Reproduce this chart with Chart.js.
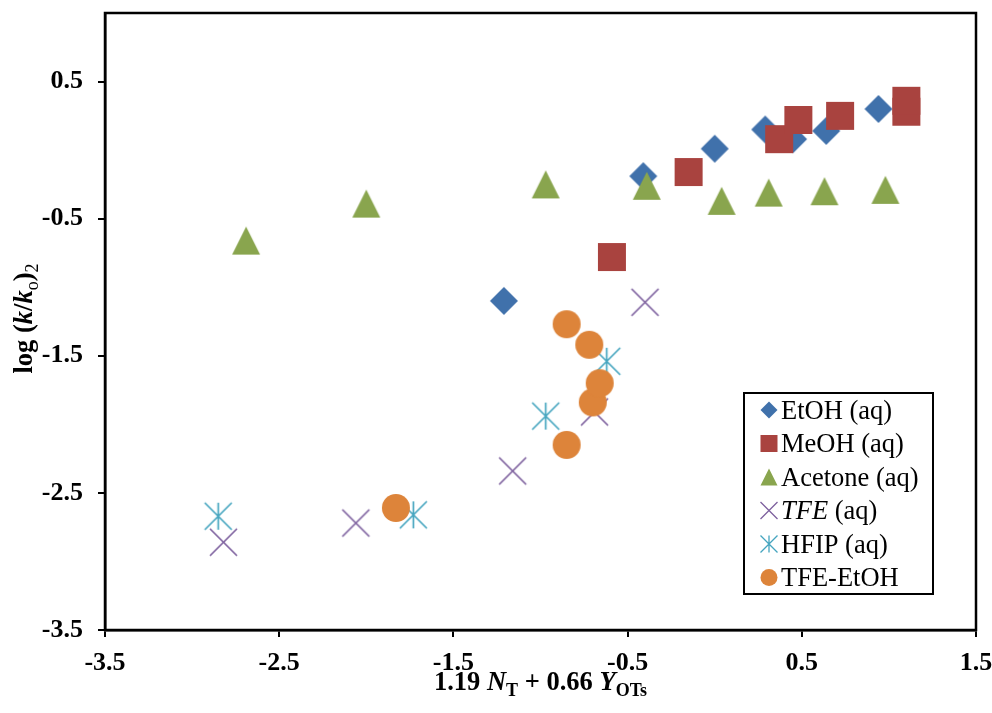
<!DOCTYPE html>
<html>
<head>
<meta charset="utf-8">
<script src="https://cdn.jsdelivr.net/npm/chart.js@4.4.1/dist/chart.umd.min.js"></script>
<style>
  html, body { margin: 0; padding: 0; background: #fff; }
</style>
</head>
<body>
<canvas id="solvolysis" width="992" height="713"></canvas>
<script>
const FONT = '"Liberation Serif", "Times New Roman", Times, serif';

// x = 1.19 NT + 0.66 YOTs, y = log (k/ko)2
const seriesNames = ['EtOH (aq)', 'MeOH (aq)', 'Acetone (aq)', 'TFE (aq)', 'HFIP (aq)', 'TFE-EtOH'];
const seriesColors = ['#4071AB', '#A9433F', '#89A54E', '#7D609E', '#45A5BF', '#DD843A'];
const seriesShapes = ['diamond', 'square', 'triangle', 'x', 'star', 'circle'];

const etohX = [-1.21, -0.41, 0.00, 0.29, 0.45, 0.64, 0.94];
const etohY = [-1.10, -0.19, 0.01, 0.15, 0.08, 0.14, 0.30];
const meohX = [-0.59, -0.15, 0.37, 0.48, 0.72, 1.10, 1.10];
const meohY = [-0.78, -0.16, 0.08, 0.22, 0.25, 0.28, 0.36];
const acetoneX = [-2.69, -2.00, -0.97, -0.39, 0.04, 0.31, 0.63, 0.98];
const acetoneY = [-0.66, -0.39, -0.25, -0.26, -0.37, -0.31, -0.30, -0.29];
const tfeX = [-2.82, -2.06, -1.16, -0.69, -0.40];
const tfeY = [-2.86, -2.72, -2.34, -1.91, -1.11];
const hfipX = [-2.85, -1.73, -0.97, -0.62];
const hfipY = [-2.67, -2.66, -1.94, -1.54];
const tfeEtohX = [-1.83, -0.85, -0.85, -0.72, -0.70, -0.66];
const tfeEtohY = [-2.61, -2.15, -1.27, -1.42, -1.84, -1.70];

const xTicks = [-3.5, -2.5, -1.5, -0.5, 0.5, 1.5];
const yTicks = [-3.5, -2.5, -1.5, -0.5, 0.5];

const seriesX = [etohX, meohX, acetoneX, tfeX, hfipX, tfeEtohX];
const seriesY = [etohY, meohY, acetoneY, tfeY, hfipY, tfeEtohY];

// excel-like marker shapes, s = full size
function drawMarker(ctx, shape, x, y, s, color) {
  const h = s / 2;
  ctx.save();
  ctx.fillStyle = color;
  ctx.strokeStyle = color;
  ctx.lineWidth = Math.max(1.3, s / 16);
  ctx.beginPath();
  if (shape === 'diamond') {
    ctx.moveTo(x, y - h); ctx.lineTo(x + h, y); ctx.lineTo(x, y + h); ctx.lineTo(x - h, y);
    ctx.closePath(); ctx.fill();
  } else if (shape === 'square') {
    ctx.rect(x - h, y - h, s, s); ctx.fill();
  } else if (shape === 'triangle') {
    ctx.moveTo(x, y - h); ctx.lineTo(x + h, y + h); ctx.lineTo(x - h, y + h);
    ctx.closePath(); ctx.fill();
  } else if (shape === 'x') {
    ctx.moveTo(x - h, y - h); ctx.lineTo(x + h, y + h);
    ctx.moveTo(x + h, y - h); ctx.lineTo(x - h, y + h);
    ctx.stroke();
  } else if (shape === 'star') {
    ctx.moveTo(x - h, y - h); ctx.lineTo(x + h, y + h);
    ctx.moveTo(x + h, y - h); ctx.lineTo(x - h, y + h);
    ctx.moveTo(x, y - h); ctx.lineTo(x, y + h);
    ctx.stroke();
  } else {
    ctx.arc(x, y, h, 0, Math.PI * 2); ctx.fill();
  }
  ctx.restore();
}

function markerImage(shape, s, color) {
  const c = document.createElement('canvas');
  c.width = s + 4;
  c.height = s + 4;
  drawMarker(c.getContext('2d'), shape, c.width / 2, c.height / 2, s, color);
  return c;
}

const markerSizes = [28, 28, 28, 27, 27, 28];

const datasets = seriesNames.map((name, i) => ({
  label: name,
  data: seriesX[i].map((x, j) => ({ x: x, y: seriesY[i][j] })),
  pointStyle: markerImage(seriesShapes[i], markerSizes[i], seriesColors[i]),
  backgroundColor: seriesColors[i],
  borderColor: seriesColors[i],
  showLine: false,
  order: seriesNames.length - i
}));

function drawRich(ctx, parts, x, y) {
  const fontOf = p => (p.i ? 'italic ' : '') + (p.b === false ? '' : 'bold ') + (p.sub ? 18 : 26.5) + 'px ' + FONT;
  let total = 0;
  parts.forEach(p => { ctx.font = fontOf(p); total += ctx.measureText(p.t).width; });
  let cx = x - total / 2;
  parts.forEach(p => {
    ctx.font = fontOf(p);
    ctx.fillText(p.t, cx, y + (p.sub ? 6 : 0));
    cx += ctx.measureText(p.t).width;
  });
}

const xTitle = [
  { t: '1.19 ' }, { t: 'N', i: true }, { t: 'T', sub: true },
  { t: ' + 0.66 ' }, { t: 'Y', i: true }, { t: 'OTs', sub: true }
];
const yTitle = [
  { t: 'log (' }, { t: 'k', i: true }, { t: '/' }, { t: 'k', i: true },
  { t: 'o', sub: true, b: false }, { t: ')' }, { t: '2', sub: true, b: false }
];

const frameAndTitles = {
  id: 'frameAndTitles',
  beforeDatasetsDraw(chart) {
    const a = chart.chartArea, ctx = chart.ctx;
    ctx.save();
    ctx.strokeStyle = '#000';
    ctx.lineWidth = 2.5;
    ctx.strokeRect(a.left, a.top, a.right - a.left, a.bottom - a.top);
    ctx.restore();
  },
  afterDraw(chart) {
    const a = chart.chartArea, ctx = chart.ctx;
    ctx.save();
    ctx.fillStyle = '#000';
    ctx.textBaseline = 'alphabetic';
    drawRich(ctx, xTitle, (a.left + a.right) / 2, 690);
    ctx.translate(32, (a.top + a.bottom) / 2 - 3);
    ctx.rotate(-Math.PI / 2);
    drawRich(ctx, yTitle, 0, 0);
    ctx.restore();

    // legend box
    const left = 744, top = 393, w = 189, h = 201;
    ctx.save();
    ctx.fillStyle = '#fff';
    ctx.fillRect(left, top, w, h);
    ctx.strokeStyle = '#000';
    ctx.lineWidth = 2;
    ctx.strokeRect(left, top, w, h);
    ctx.fillStyle = '#000';
    ctx.textBaseline = 'alphabetic';
    seriesNames.forEach((name, i) => {
      const cy = top + 17 + i * 33.5;
      drawMarker(ctx, seriesShapes[i], left + 25, cy, 17, seriesColors[i]);
      let tx = left + 37;
      if (name.startsWith('TFE (')) {
        ctx.font = 'italic 26.5px ' + FONT;
        ctx.fillText('TFE', tx, cy + 8.5);
        tx += ctx.measureText('TFE').width;
        name = name.slice(3);
      }
      ctx.font = '26.5px ' + FONT;
      ctx.fillText(name, tx, cy + 8.5);
    });
    ctx.restore();
  }
};

const tickFont = { family: FONT, size: 26, weight: 'bold' };

new Chart(document.getElementById('solvolysis').getContext('2d'), {
  type: 'scatter',
  data: { datasets: datasets },
  options: {
    responsive: false,
    animation: false,
    events: [],
    layout: { padding: { top: 13, right: 16, bottom: 0, left: 0 } },
    plugins: { legend: { display: false }, tooltip: { enabled: false } },
    scales: {
      x: {
        type: 'linear',
        min: -3.5,
        max: 1.5,
        afterBuildTicks: s => { s.ticks = xTicks.map(v => ({ value: v })); },
        afterFit: s => { s.height = 83; s.paddingLeft = 0; s.paddingRight = 0; },
        border: { display: true, color: '#000', width: 2.5 },
        grid: { drawOnChartArea: false, drawTicks: true, tickLength: 7, color: '#000', lineWidth: 2 },
        ticks: { color: '#000', font: tickFont, padding: 11, maxRotation: 0, callback: v => v.toFixed(1) }
      },
      y: {
        type: 'linear',
        min: -3.5,
        max: 1.0,
        afterBuildTicks: s => { s.ticks = yTicks.map(v => ({ value: v })); },
        afterFit: s => { s.width = 105; s.paddingTop = 0; s.paddingBottom = 0; },
        border: { display: true, color: '#000', width: 2.5 },
        grid: { drawOnChartArea: false, drawTicks: true, tickLength: 7, color: '#000', lineWidth: 2 },
        ticks: { color: '#000', font: tickFont, padding: 15, callback: v => v.toFixed(1) }
      }
    }
  },
  plugins: [frameAndTitles]
});
</script>
</body>
</html>
